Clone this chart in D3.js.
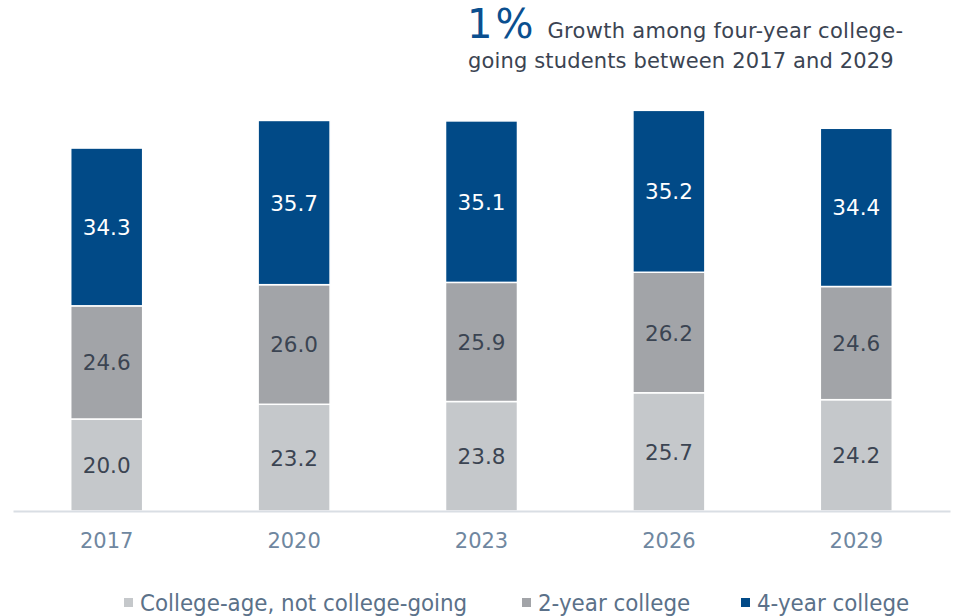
<!DOCTYPE html>
<html>
<head>
<meta charset="utf-8">
<script src="https://cdn.jsdelivr.net/npm/d3@7"></script>
<style>
  body { margin: 0; background: #fff; }
  svg { display: block; }
</style>
</head>
<body>
<svg id="chart" width="956" height="616"></svg>
<script>
// chart data
var years = ["2017", "2020", "2023", "2026", "2029"];
var notGoing = [20.0, 23.2, 23.8, 25.7, 24.2];
var twoYear = [24.6, 26.0, 25.9, 26.2, 24.6];
var fourYear = [34.3, 35.7, 35.1, 35.2, 34.4];
var seriesNames = ["College-age, not college-going", "2-year college", "4-year college"];
var colors = ["#c5c8cb", "#a2a4a8", "#014a87"];
var labelColors = ["#3b4452", "#3b4452", "#ffffff"];

var svg = d3.select("#chart");
var font = "DejaVu Sans, Verdana, sans-serif";

var x = d3.scaleBand().domain(years).range([13, 950]).paddingInner(0.616).paddingOuter(0.308);
var y = d3.scaleLinear().domain([0, 100]).range([511, 51]);

var rows = years.map(function(yr, i) {
  return { year: yr, s0: notGoing[i], s1: twoYear[i], s2: fourYear[i] };
});
var stack = d3.stack().keys(["s0", "s1", "s2"]);
var layers = stack(rows);

var g = svg.append("g");
layers.forEach(function(layer, li) {
  var grp = g.append("g").attr("class", "layer");
  grp.selectAll("rect")
    .data(layer)
    .enter().append("rect")
    .attr("x", function(d) { return x(d.data.year); })
    .attr("width", x.bandwidth())
    .attr("y", function(d) { return y(d[1]); })
    .attr("height", function(d) { return y(d[0]) - y(d[1]); })
    .style("fill", colors[li])
    .style("stroke", "#fff")
    .style("stroke-width", 1.5);
  grp.selectAll("text")
    .data(layer)
    .enter().append("text")
    .attr("x", function(d) { return x(d.data.year) + x.bandwidth() / 2; })
    .attr("y", function(d) { return (y(d[0]) + y(d[1])) / 2 + 8; })
    .attr("text-anchor", "middle")
    .style("font-family", font)
    .style("font-size", "21.5px")
    .style("fill", labelColors[li])
    .text(function(d) { return (d[1] - d[0]).toFixed(1); });
});

// x axis
var xAxis = svg.append("g")
  .attr("transform", "translate(0,511)")
  .call(d3.axisBottom(x).tickSize(0).tickPadding(22));
xAxis.select(".domain").attr("stroke", "#d9dee4").attr("stroke-width", 2);
xAxis.selectAll("text")
  .style("font-family", font)
  .style("font-size", "21px")
  .style("fill", "#6f87a0");

// headline
var head = svg.append("text").attr("x", 467).attr("y", 38)
  .style("font-family", font).style("fill", "#3b4452");
head.append("tspan").text("1%").style("font-size", "40px").style("letter-spacing", "3px").style("fill", "#0b4f8f");
head.append("tspan").attr("dx", 11).text("Growth among four-year college-")
  .style("font-size", "21px").style("letter-spacing", "0.3px");
svg.append("text").attr("x", 468).attr("y", 68)
  .style("font-family", font).style("font-size", "21px").style("letter-spacing", "0.15px")
  .style("fill", "#3b4452")
  .text("going students between 2017 and 2029");

// legend
var legendX = [124, 522, 741];
var legend = svg.selectAll(".legend")
  .data(seriesNames)
  .enter().append("g")
  .attr("transform", function(d, i) { return "translate(" + legendX[i] + ",611)"; });
legend.append("rect")
  .attr("x", 0).attr("y", -13).attr("width", 9).attr("height", 9)
  .style("fill", function(d, i) { return colors[i]; });
legend.append("text")
  .attr("x", 16).attr("y", 0)
  .style("font-family", "DejaVu Sans Condensed, sans-serif")
  .style("font-size", "23.8px")
  .style("fill", "#5b7189")
  .text(function(d) { return d; });
</script>
</body>
</html>
